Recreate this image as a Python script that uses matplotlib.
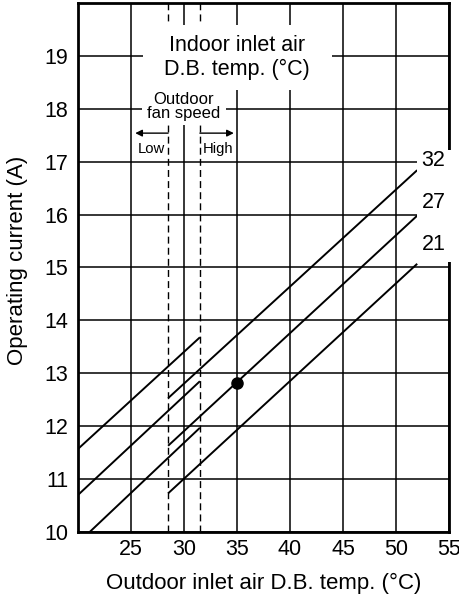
import matplotlib
matplotlib.use("Agg")
import matplotlib.pyplot as plt
from matplotlib.patches import Rectangle

plt.rcParams['font.family'] = ['Liberation Sans', 'DejaVu Sans']

# indoor inlet air D.B. temp (deg C) for each curve
indoor_temps = [21, 27, 32]

# low fan speed segments (outdoor temp, current)
low_x_start = [21.1, 20.0, 20.0]
low_y_start = [10.0, 10.70, 11.57]
low_x_end = [31.5, 31.5, 31.5]
low_y_end = [11.97, 12.85, 13.68]

# high fan speed segments
high_x_start = [28.5, 28.5, 28.5]
high_y_start = [10.73, 11.63, 12.53]
high_x_end = [52.0, 52.0, 52.0]
high_y_end = [15.07, 15.98, 16.84]

# fan speed switching band
switch_low = 28.5
switch_high = 31.5

# rated point
rated_x = 35
rated_y = 12.82

x_ticks = [25, 30, 35, 40, 45, 50, 55]
y_ticks = [10, 11, 12, 13, 14, 15, 16, 17, 18, 19]

fig = plt.figure(figsize=(4.6, 6.0), dpi=100)
ax = fig.add_axes([78 / 460, 1 - 532 / 600, 371 / 460, 529 / 600])

ax.set_xlim(20, 55)
ax.set_ylim(10, 20)
ax.set_xticks(x_ticks)
ax.set_yticks(y_ticks)
ax.tick_params(length=0, labelsize=15.5)
ax.tick_params(axis='x', pad=5)
ax.tick_params(axis='y', pad=7)
ax.grid(True, color='black', lw=1.1)
ax.set_axisbelow(True)
for s in ax.spines.values():
    s.set_linewidth(2.0)

# switching band
for xv in (switch_low, switch_high):
    ax.axvline(xv, color='black', lw=1.0, dashes=(5, 3), zorder=1.5)

for i in range(len(indoor_temps)):
    ax.plot([low_x_start[i], low_x_end[i]], [low_y_start[i], low_y_end[i]],
            color='black', lw=1.4, zorder=2, solid_capstyle='butt')
    ax.plot([high_x_start[i], high_x_end[i]], [high_y_start[i], high_y_end[i]],
            color='black', lw=1.4, zorder=2, solid_capstyle='butt')

ax.plot([rated_x], [rated_y], 'o', color='black', ms=8, zorder=3)

# white masks behind the annotations
ax.add_patch(Rectangle((26.1, 18.36), 17.86, 1.22, facecolor='white',
                       edgecolor='none', zorder=2.2))
ax.add_patch(Rectangle((26.0, 17.69), 7.96, 0.70, facecolor='white',
                       edgecolor='none', zorder=2.2))
ax.add_patch(Rectangle((52.0, 15.1), 4.0, 2.12, facecolor='white',
                       edgecolor='none', zorder=2.6, clip_on=False))

ax.text(35, 18.97, 'Indoor inlet air\nD.B. temp. (°C)', ha='center', va='center',
        fontsize=15.5, linespacing=1.15, zorder=4)
ax.text(30, 18.04, 'Outdoor\nfan speed', ha='center', va='center',
        fontsize=12, linespacing=0.9, zorder=4)

ax.annotate('', xy=(25.4, 17.54), xytext=(switch_low, 17.54),
            arrowprops=dict(arrowstyle='-|>', color='black', lw=1.0,
                            mutation_scale=10, shrinkA=0, shrinkB=0), zorder=4)
ax.annotate('', xy=(34.7, 17.54), xytext=(switch_high, 17.54),
            arrowprops=dict(arrowstyle='-|>', color='black', lw=1.0,
                            mutation_scale=10, shrinkA=0, shrinkB=0), zorder=4)
ax.text(26.95, 17.24, 'Low', ha='center', va='center', fontsize=10.7, zorder=4)
ax.text(33.2, 17.24, 'High', ha='center', va='center', fontsize=10.7, zorder=4)

label_y = [15.43, 16.22, 17.02]
for t, ly in zip(indoor_temps, label_y):
    ax.text(53.55, ly, str(t), ha='center', va='center', fontsize=15.5,
            zorder=5, clip_on=False)

ax.set_xlabel('Outdoor inlet air D.B. temp. (°C)', fontsize=16)
ax.set_ylabel('Operating current (A)', fontsize=16)
ax.xaxis.set_label_coords(0.5, -0.0775)
ax.yaxis.set_label_coords(-0.135, 0.513)

fig.savefig('out.png', dpi=100)
